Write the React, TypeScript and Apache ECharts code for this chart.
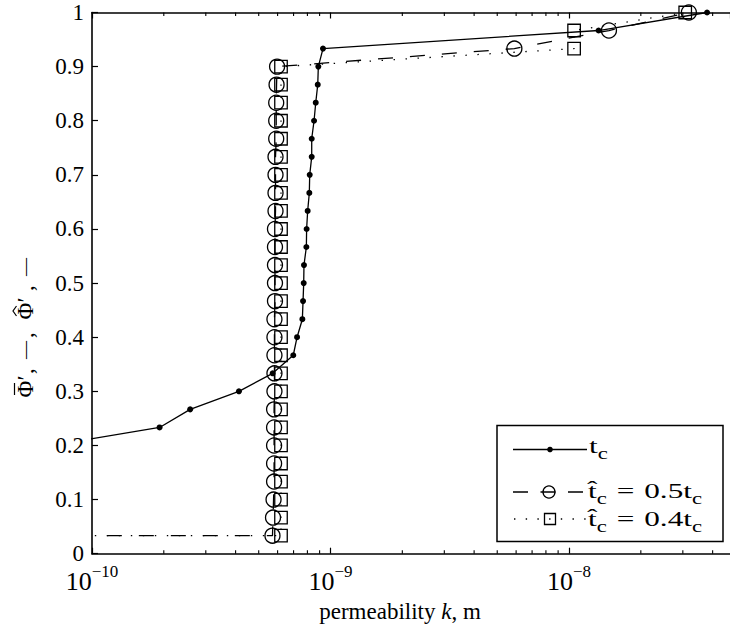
import { useEffect, useRef } from 'react';
import * as echarts from 'echarts';

// Cumulative fraction vs. permeability, reference threshold t_c
const tcK = [
  6.8e-11, 1.92e-10, 2.58e-10, 4.13e-10, 5.72e-10, 6.98e-10, 7.24e-10, 7.62e-10,
  7.67e-10, 7.72e-10, 7.74e-10, 7.92e-10, 7.94e-10, 8.02e-10, 8.15e-10, 8.18e-10,
  8.34e-10, 8.34e-10, 8.53e-10, 8.67e-10, 8.84e-10, 8.89e-10, 9.3e-10, 1.33e-8, 3.79e-8,
];
const tcPhi = [
  0.2, 0.2333, 0.2667, 0.3, 0.3333, 0.3667, 0.4, 0.4333,
  0.4667, 0.5, 0.5333, 0.5667, 0.6, 0.6333, 0.6667, 0.7,
  0.7333, 0.7667, 0.8, 0.8333, 0.8667, 0.9, 0.9333, 0.9667, 1.0,
];

// Estimated threshold 0.5 t_c
const halfK = [
  1e-20, 5.71e-10, 5.74e-10, 5.77e-10, 5.8e-10, 5.8e-10, 5.8e-10, 5.8e-10, 5.8e-10,
  5.82e-10, 5.82e-10, 5.82e-10, 5.82e-10, 5.82e-10, 5.85e-10, 5.85e-10, 5.85e-10,
  5.85e-10, 5.85e-10, 5.88e-10, 5.88e-10, 5.88e-10, 5.88e-10, 5.92e-10, 5.92e-10,
  5.92e-10, 5.94e-10, 5.97e-10, 5.9e-9, 1.47e-8, 3.18e-8,
];
const halfPhi = [
  0.0333, 0.0333, 0.0667, 0.1, 0.1333, 0.1667, 0.2, 0.2333, 0.2667,
  0.3, 0.3333, 0.3667, 0.4, 0.4333, 0.4667, 0.5, 0.5333,
  0.5667, 0.6, 0.6333, 0.6667, 0.7, 0.7333, 0.7667, 0.8,
  0.8333, 0.8667, 0.9, 0.9333, 0.9667, 1.0,
];

// Estimated threshold 0.4 t_c
const fourK = [
  1e-20, 6.2e-10, 6.2e-10, 6.2e-10, 6.2e-10, 6.2e-10, 6.2e-10, 6.2e-10, 6.2e-10,
  6.2e-10, 6.2e-10, 6.2e-10, 6.2e-10, 6.2e-10, 6.2e-10, 6.2e-10, 6.2e-10,
  6.2e-10, 6.2e-10, 6.2e-10, 6.2e-10, 6.2e-10, 6.2e-10, 6.2e-10, 6.2e-10,
  6.2e-10, 6.2e-10, 6.2e-10, 1.05e-8, 1.05e-8, 3.07e-8,
];
const fourPhi = halfPhi;

// Minor log ticks (2..9 per decade) inside the visible range
const minorTickK = [
  2e-10, 3e-10, 4e-10, 5e-10, 6e-10, 7e-10, 8e-10, 9e-10,
  2e-9, 3e-9, 4e-9, 5e-9, 6e-9, 7e-9, 8e-9, 9e-9,
  2e-8, 3e-8, 4e-8,
];

const X_MIN = 1e-10;
const X_MAX = 4.73e-8;
const FONT = 'Liberation Serif';
const INK = '#000';

const pairs = (xs: number[], ys: number[]) => xs.map((x, i) => [x, ys[i]]);

const powLabel = (v: number) => {
  const e = Math.log10(v);
  const r = Math.round(e);
  if (Math.abs(e - r) > 1e-6) return '';
  return `{b|10}{s|${r < 0 ? '\u2212' : ''}${Math.abs(r)}}`;
};

export default function App() {
  const ref = useRef<HTMLDivElement>(null);

  useEffect(() => {
    if (!ref.current) return;
    const chart = echarts.init(ref.current, null, { renderer: 'svg' });

    const baseXAxis = {
      type: 'log' as const,
      logBase: 10,
      min: X_MIN,
      max: X_MAX,
      splitLine: { show: false },
      axisLine: { lineStyle: { color: INK, width: 1.6 } },
      axisTick: { inside: true, length: 6, lineStyle: { color: INK, width: 1.2 } },
    };

    const legRich = {
      m: { fontFamily: FONT, fontSize: 22, fill: INK, lineHeight: 24 },
      e: { fontFamily: FONT, fontSize: 22, fill: INK, lineHeight: 24, padding: [0, 7, 0, 7] },
      s: { fontFamily: FONT, fontSize: 16, fill: INK, lineHeight: 16, padding: [14, 0, 0, 0] },
    };

    // y-axis title pieces, laid along the rotated baseline (local x = -screen y)
    const yTitlePieces = [
      { t: '\u03A6', y: 389, size: 23 },
      { t: '\u2032', y: 378, size: 23 },
      { t: ',', y: 371, size: 23 },
      { t: '\u2014', y: 350, size: 18 },
      { t: ',', y: 335, size: 23 },
      { t: '\u03A6', y: 311, size: 23 },
      { t: '\u2032', y: 300, size: 23 },
      { t: ',', y: 288, size: 23 },
      { t: '\u2014', y: 267, size: 18 },
    ];

    chart.setOption({
      animation: false,
      backgroundColor: '#fff',
      grid: { left: 92, top: 12.5, right: 0, bottom: 78.3 },
      xAxis: [
        {
          ...baseXAxis,
          position: 'bottom',
          axisLabel: {
            formatter: powLabel,
            margin: 15,
            showMaxLabel: false,
            fontFamily: FONT,
            rich: {
              b: { fontFamily: FONT, fontSize: 26, color: INK, lineHeight: 26 },
              s: { fontFamily: FONT, fontSize: 17, color: INK, lineHeight: 17, padding: [0, 0, 20, 0] },
            },
          },
        },
        {
          ...baseXAxis,
          position: 'top',
          axisLabel: { show: false },
        },
      ],
      yAxis: {
        type: 'value',
        min: 0,
        max: 1,
        interval: 0.1,
        splitLine: { show: false },
        axisLine: { show: true, lineStyle: { color: INK, width: 1.6 } },
        axisTick: { show: true, inside: true, length: 6, lineStyle: { color: INK, width: 1.2 } },
        axisLabel: {
          margin: 8,
          fontFamily: FONT,
          fontSize: 23,
          color: INK,
          formatter: (v: number) => String(+v.toFixed(1)),
        },
      },
      series: [
        {
          type: 'custom',
          silent: true,
          xAxisIndex: 0,
          yAxisIndex: 0,
          data: minorTickK.map((k) => [k, 0]),
          encode: { x: 0, y: 1 },
          clip: false,
          renderItem: (_p: any, api: any) => {
            const k = api.value(0);
            const b = api.coord([k, 0]);
            const t = api.coord([k, 1]);
            const st = { stroke: INK, lineWidth: 1.1 };
            return {
              type: 'group',
              children: [
                { type: 'line', shape: { x1: b[0], y1: b[1], x2: b[0], y2: b[1] - 3.5 }, style: st },
                { type: 'line', shape: { x1: t[0], y1: t[1], x2: t[0], y2: t[1] + 3.5 }, style: st },
              ],
            };
          },
        },
        {
          name: 't_c',
          type: 'line',
          data: pairs(tcK, tcPhi),
          clip: true,
          symbol: 'circle',
          symbolSize: 6,
          itemStyle: { color: INK },
          lineStyle: { color: INK, width: 1.3 },
        },
        {
          name: '0.5 t_c',
          type: 'line',
          data: pairs(halfK, halfPhi),
          clip: true,
          symbol: 'circle',
          symbolSize: 15,
          itemStyle: { color: 'rgba(0,0,0,0)', borderColor: INK, borderWidth: 1.3 },
          lineStyle: { color: INK, width: 1.3, type: [15, 17] },
        },
        {
          name: '0.4 t_c',
          type: 'line',
          data: pairs(fourK, fourPhi),
          clip: true,
          symbol: 'rect',
          symbolSize: 12.5,
          itemStyle: { color: 'rgba(0,0,0,0)', borderColor: INK, borderWidth: 1.3 },
          lineStyle: { color: INK, width: 1.3, type: [1.4, 10.6] },
        },
      ],
      graphic: [
        {
          type: 'text',
          x: 400,
          y: 611,
          style: {
            text: '{r|permeability }{i|k}{r|, m}',
            align: 'center',
            verticalAlign: 'middle',
            rich: {
              r: { fontFamily: FONT, fontSize: 23, fill: INK },
              i: { fontFamily: FONT, fontSize: 23, fill: INK, fontStyle: 'italic' },
            },
          },
        },
        {
          type: 'group',
          x: 25,
          y: 0,
          rotation: Math.PI / 2,
          children: [
            ...yTitlePieces.map((p) => ({
              type: 'text',
              x: -p.y,
              y: 0,
              style: {
                text: p.t,
                fontFamily: FONT,
                fontSize: p.size,
                fill: INK,
                align: 'center',
                verticalAlign: 'middle',
              },
            })),
            // bar over the first Phi
            { type: 'line', shape: { x1: -395, y1: -10.5, x2: -383, y2: -10.5 }, style: { stroke: INK, lineWidth: 1.2 } },
            // hat over the second Phi
            {
              type: 'polyline',
              shape: { points: [[-316, -8.5], [-311, -12], [-306, -8.5]] },
              style: { stroke: INK, lineWidth: 1.2, fill: 'none' },
            },
          ],
        },
        // legend box
        {
          type: 'rect',
          shape: { x: 497, y: 425.5, width: 226, height: 116 },
          style: { fill: '#fff', stroke: INK, lineWidth: 1.5 },
        },
        { type: 'line', shape: { x1: 513, y1: 449.5, x2: 587, y2: 449.5 }, style: { stroke: INK, lineWidth: 1.3 } },
        { type: 'circle', shape: { cx: 550, cy: 449.5, r: 2.8 }, style: { fill: INK } },
        {
          type: 'text', x: 589, y: 446, scaleX: 1.42,
          style: { text: '{m|t}{s|c}', verticalAlign: 'middle', rich: legRich },
        },
        {
          type: 'line', shape: { x1: 513, y1: 492, x2: 587, y2: 492 },
          style: { stroke: INK, lineWidth: 1.3, lineDash: [15, 12.5] },
        },
        { type: 'circle', shape: { cx: 549, cy: 492, r: 6 }, style: { fill: 'none', stroke: INK, lineWidth: 1.3 } },
        {
          type: 'text', x: 588, y: 491, scaleX: 1.42,
          style: { text: '{m|t\u0302}{s|c}{e|=}{m|0.5t}{s|c}', verticalAlign: 'middle', rich: legRich },
        },
        {
          type: 'line', shape: { x1: 514, y1: 519, x2: 587, y2: 519 },
          style: { stroke: INK, lineWidth: 1.3, lineDash: [1.4, 10.3] },
        },
        { type: 'rect', shape: { x: 544.5, y: 513.5, width: 11, height: 11 }, style: { fill: 'none', stroke: INK, lineWidth: 1.3 } },
        {
          type: 'text', x: 588, y: 519, scaleX: 1.42,
          style: { text: '{m|t\u0302}{s|c}{e|=}{m|0.4t}{s|c}', verticalAlign: 'middle', rich: legRich },
        },
      ],
    });

    return () => chart.dispose();
  }, []);

  return (
    <div
      ref={ref}
      style={{ position: 'fixed', left: 0, top: 0, width: 730, height: 632, background: '#fff' }}
    />
  );
}
